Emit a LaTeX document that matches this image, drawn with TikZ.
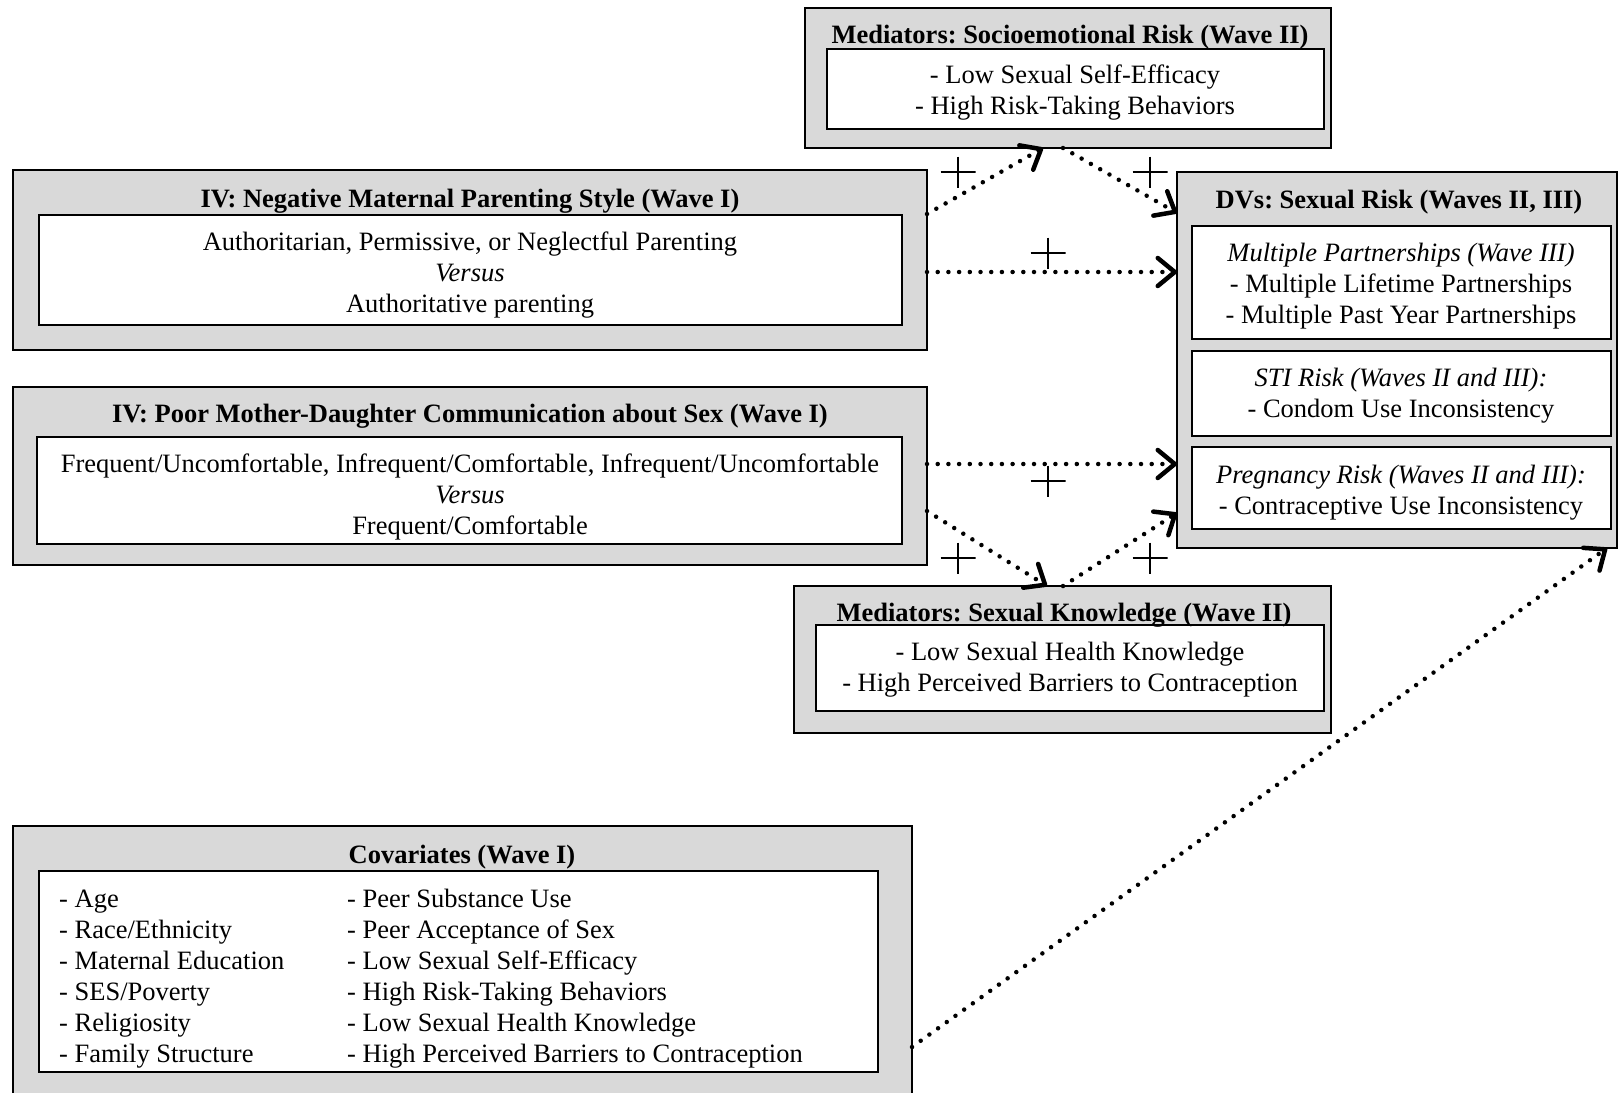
\documentclass[tikz,border=0pt]{standalone}
\usepackage{fontspec}
\setmainfont{Liberation Serif}
\usetikzlibrary{arrows.meta}
\definecolor{boxgray}{RGB}{217,217,217}
\newcommand{\mybox}[6]{%
  \node[#2, anchor=north west, minimum width={(#5-#3)*1pt}, minimum height={(#6-#4)*1pt}] (#1) at (#3,#4) {};}
\frenchspacing
\begin{document}
\begin{tikzpicture}[x=1pt,y=-1pt,
  outerbox/.style={draw, line width=2pt, fill=boxgray, inner sep=0pt, outer sep=0pt},
  innerbox/.style={draw, line width=2pt, fill=white, inner sep=0pt, outer sep=0pt},
  txt/.style={font=\fontsize{26.5}{31}\selectfont\frenchspacing, align=center, inner sep=0pt},
  ttl/.style={font=\fontsize{26.5}{31}\selectfont\bfseries\frenchspacing, align=center, inner sep=0pt},
  coltxt/.style={font=\fontsize{26.5}{31}\selectfont, align=left, inner sep=0pt, anchor=west},
  conn/.style={line width=4.5pt, dash pattern=on 0pt off 10.7pt, line cap=round,
    -{Straight Barb[length=17pt,width=28pt,round]}},
  plussign/.style={minimum width=35pt, minimum height=31pt, inner sep=0pt,
    path picture={\draw[line width=1.6pt] (path picture bounding box.north) -- (path picture bounding box.south)
      (path picture bounding box.west) -- (path picture bounding box.east);}}
]
\useasboundingbox (0,0) rectangle (1619,1092);
\clip (0,0) rectangle (1619,1092);

% Socioemotional mediators
\mybox{soc}{outerbox}{805}{8}{1331}{148}
\mybox{socin}{innerbox}{827}{49}{1324}{129}
\node[ttl] (soct) at (1070,37) {Mediators: Socioemotional Risk (Wave II)};
\node[txt] (soci) at (1075,93) {- Low Sexual Self-Efficacy\\- High Risk-Taking Behaviors};

% Parenting IV
\mybox{par}{outerbox}{13}{170}{927}{350}
\mybox{parin}{innerbox}{39}{215}{902}{325}
\node[ttl] (part) at (470,201) {IV: Negative Maternal Parenting Style (Wave I)};
\node[txt] (pari) at (470,275.5) {Authoritarian, Permissive, or Neglectful Parenting\\\textit{Versus}\\Authoritative parenting};

% Communication IV
\mybox{com}{outerbox}{13}{387}{927}{565}
\mybox{comin}{innerbox}{37}{437}{902}{544}
\node[ttl] (comt) at (470,416) {IV: Poor Mother-Daughter Communication about Sex (Wave I)};
\node[txt] (comi) at (470,497) {Frequent/Uncomfortable, Infrequent/Comfortable, Infrequent/Uncomfortable\\\textit{Versus}\\Frequent/Comfortable};

% Knowledge mediators
\mybox{kno}{outerbox}{794}{586}{1331}{733}
\mybox{knoin}{innerbox}{816}{625}{1324}{711}
\node[ttl] (knot) at (1064,615) {Mediators: Sexual Knowledge (Wave II)};
\node[txt] (knoi) at (1070,670) {- Low Sexual Health Knowledge\\- High Perceived Barriers to Contraception};

% DVs
\mybox{dv}{outerbox}{1177}{172}{1617}{548}
\mybox{dvina}{innerbox}{1192}{226}{1611}{339}
\mybox{dvinb}{innerbox}{1192}{351}{1611}{436}
\mybox{dvinc}{innerbox}{1192}{447}{1611}{529}
\node[ttl] (dvt) at (1399,202) {DVs: Sexual Risk (Waves II, III)};
\node[txt] (dva) at (1401,286) {\textit{Multiple Partnerships (Wave III)}\\- Multiple Lifetime Partnerships\\- Multiple Past Year Partnerships};
\node[txt] (dvb) at (1401,396) {\textit{STI Risk (Waves II and III):}\\- Condom Use Inconsistency};
\node[txt] (dvc) at (1401,493) {\textit{Pregnancy Risk (Waves II and III):}\\- Contraceptive Use Inconsistency};

% Covariates
\mybox{cov}{outerbox}{13}{826}{912}{1110}
\mybox{covin}{innerbox}{39}{871}{878}{1072}
\node[ttl] (covt) at (462,857) {Covariates (Wave I)};
\node[coltxt] (cova) at (59,979) {- Age\\- Race/Ethnicity\\- Maternal Education\\- SES/Poverty\\- Religiosity\\- Family Structure};
\node[coltxt] (covb) at (347,979) {- Peer Substance Use\\- Peer Acceptance of Sex\\- Low Sexual Self-Efficacy\\- High Risk-Taking Behaviors\\- Low Sexual Health Knowledge\\- High Perceived Barriers to Contraception};

% Connectors
\draw[conn] ([yshift=46pt]par.east) -- ([xshift=-25pt]soc.south);
\draw[conn] ([xshift=-5pt]soc.south) -- ([yshift=147pt]dv.west);
\draw[conn] ([yshift=-12pt]par.east) -- ([yshift=88pt]dv.west);
\draw[conn] ([yshift=12pt]com.east) -- ([yshift=-104pt]dv.west);
\draw[conn] ([yshift=-35pt]com.east) -- ([xshift=-15.5pt]kno.north);
\draw[conn] ([xshift=0.5pt]kno.north) -- ([yshift=-153pt]dv.west);
\draw[conn] ([yshift=-79pt]cov.east) -- ([xshift=210pt]dv.south);

% Plus signs
\node[plussign] (p1) at (958,172) {};
\node[plussign] (p2) at (1150,172) {};
\node[plussign] (p3) at (1048,253) {};
\node[plussign] (p4) at (1048,481) {};
\node[plussign] (p5) at (958,558) {};
\node[plussign] (p6) at (1150,558) {};
\end{tikzpicture}
\end{document}
